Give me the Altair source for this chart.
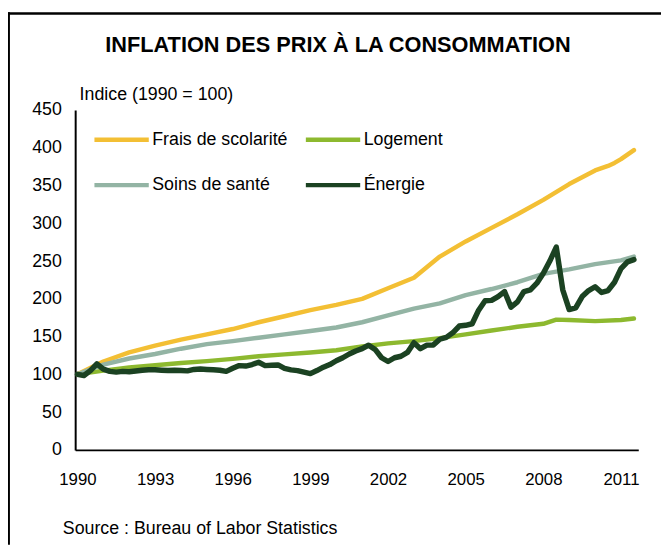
import altair as alt
import pandas as pd

FONT = "Liberation Sans"

series_names = ["Frais de scolarité", "Logement", "Soins de santé", "Énergie"]
series_colors = ["#F3BF34", "#8DB92F", "#93B4A4", "#1B4222"]

frais_years = [1990, 1991, 1992, 1993, 1994, 1995, 1996, 1997, 1998, 1999, 2000,
               2001, 2002, 2003, 2004, 2005, 2006, 2007, 2008, 2009, 2010,
               2010.5, 2010.75, 2011, 2011.5]
frais = [100, 117, 129, 138, 146, 153, 160, 169, 177, 185, 192,
         200, 214, 228, 256, 276, 294, 312, 331, 352, 370,
         376, 380, 385, 397]

logement_years = [1990, 1991, 1992, 1993, 1994, 1995, 1996, 1997, 1998, 1999, 2000,
                  2001, 2002, 2003, 2004, 2005, 2006, 2007, 2008, 2008.5, 2009,
                  2010, 2011, 2011.5]
logement = [100, 105, 109, 112, 115, 117.5, 120.5, 124, 126.5, 129, 132,
            137, 141, 144, 148, 153, 158, 163, 167, 172.5, 172,
            170.5, 172, 174]

sante_years = [1990, 1991, 1992, 1993, 1994, 1995, 1996, 1997, 1998, 1999, 2000,
               2001, 2002, 2003, 2004, 2005, 2006, 2007, 2008, 2009, 2010,
               2011, 2011.5]
sante = [100, 113, 121, 127, 134, 140, 144, 148.5, 153, 157.5, 162,
         169, 178, 187, 194, 205, 213, 222, 233, 239, 246,
         251, 256]

energie_years = [1990 + q / 4 for q in range(0, 87)]
energie = [100, 98.5, 105, 114, 107, 104, 103, 104,
           103.5, 104.5, 105.5, 106, 106, 105.5, 105, 105.5,
           105, 104.6, 106.5, 107, 106.5, 106, 105.5, 104,
           108, 111.6, 111, 113, 116, 111.6, 112, 112.5,
           108, 106, 105, 103, 101, 105, 109.5, 113,
           118, 122, 127, 131, 134, 138.7, 133, 122,
           117, 122, 124, 129, 142, 134, 138.7, 139,
           146.5, 149, 155, 164, 165, 167, 185, 197.5,
           198, 203, 209.7, 189, 196, 209.7, 212, 220.7,
           233.8, 250, 268.6, 212, 185.8, 188, 203, 211,
           216, 208.5, 211, 222, 240, 249, 252]

x_ticks = [1990, 1993, 1996, 1999, 2002, 2005, 2008, 2011]
y_ticks = [0, 50, 100, 150, 200, 250, 300, 350, 400, 450]

rows = []
for name, yrs, vals in [
    (series_names[0], frais_years, frais),
    (series_names[1], logement_years, logement),
    (series_names[2], sante_years, sante),
    (series_names[3], energie_years, energie),
]:
    for yr, v in zip(yrs, vals):
        rows.append({"year": yr, "value": v, "series": name})
df = pd.DataFrame(rows)

lines = alt.Chart(df).mark_line(
    strokeCap="round", strokeJoin="round"
).encode(
    x=alt.X(
        "year:Q",
        scale=alt.Scale(domain=[1989.912, 2011.668], nice=False, zero=False),
        axis=alt.Axis(
            values=x_ticks, format="d", grid=False, ticks=False,
            domainColor="black", domainWidth=2,
            labelFont=FONT, labelFontSize=17, labelColor="black", labelPadding=22,
            labelFlush=False,
            title="Source : Bureau of Labor Statistics",
            titleFont=FONT, titleFontSize=18, titleFontWeight="normal", titleColor="black",
            titleAnchor="start", titleAlign="left", titleBaseline="alphabetic",
            titleX=-13, titleY=85,
        ),
    ),
    y=alt.Y(
        "value:Q",
        scale=alt.Scale(domain=[0, 450], nice=False),
        axis=alt.Axis(
            values=y_ticks, grid=False, ticks=False,
            domainColor="black", domainWidth=2,
            labelFont=FONT, labelFontSize=18, labelColor="black", labelPadding=14,
            title="Indice (1990 = 100)",
            titleFont=FONT, titleFontSize=18, titleFontWeight="normal", titleColor="black",
            titleAngle=0, titleAlign="left", titleBaseline="alphabetic",
            titleX=4, titleY=-11,
        ),
    ),
    color=alt.Color(
        "series:N",
        scale=alt.Scale(domain=series_names, range=series_colors),
        legend=alt.Legend(
            title=None, orient="none", legendX=17, legendY=0, columns=2,
            direction="horizontal",
            symbolType="stroke", symbolSize=3025, symbolStrokeWidth=4.5,
            labelFont=FONT, labelFontSize=18, labelColor="black", labelOffset=1,
            rowPadding=7, columnPadding=8, padding=0,
        ),
    ),
    strokeWidth=alt.condition(
        alt.datum.series == "Énergie", alt.value(5.5), alt.value(4.5)
    ),
)

frame_src = alt.Chart(alt.Data(values=[{}]))
frame_left = frame_src.mark_rule(color="black", strokeWidth=2.5).encode(
    x=alt.value(-67.3), y=alt.value(-99), y2=alt.value(440)
)
frame_top = frame_src.mark_rule(color="black", strokeWidth=2.5).encode(
    x=alt.value(-68.5), x2=alt.value(600), y=alt.value(-97.7)
)

chart = alt.layer(frame_left, frame_top, lines).properties(
    width=570,
    height=344,
    title=alt.TitleParams(
        "INFLATION DES PRIX À LA CONSOMMATION",
        font=FONT, fontSize=22, fontWeight="bold", color="black",
        anchor="middle", frame="group", dx=-19, dy=63, offset=0,
        baseline="alphabetic",
    ),
    autosize=alt.AutoSizeParams(type="none"),
    padding={"left": 68, "top": 100, "right": 23, "bottom": 94},
).configure_view(stroke=None)

chart.save("out.html", embed_options={"renderer": "svg", "actions": False})
